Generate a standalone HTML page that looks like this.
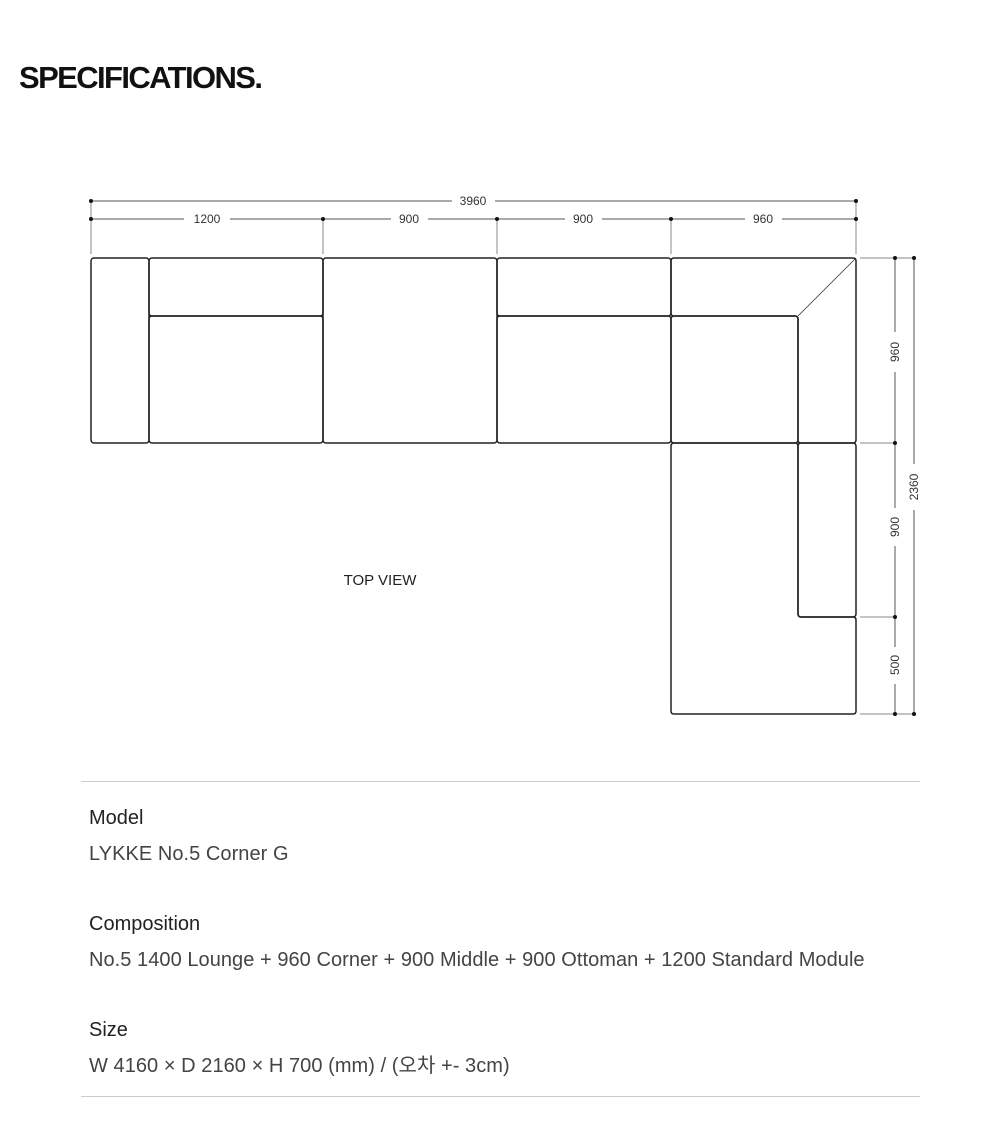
<!DOCTYPE html>
<html><head><meta charset="utf-8"><style>
body{margin:0;background:#fff;width:1000px;height:1148px;position:relative;overflow:hidden;font-family:"Liberation Sans","Noto Sans CJK KR",sans-serif;}
h1{position:absolute;left:19px;top:60px;margin:0;font-size:31px;font-weight:bold;letter-spacing:-1.6px;color:#111;}
.t{position:absolute;left:89px;color:#222;font-size:20px;line-height:24px;letter-spacing:0}
.v{position:absolute;left:89px;color:#444;font-size:20px;line-height:24px;letter-spacing:0.05px}
.hr{position:absolute;left:81px;width:839px;height:1px;background:#ccc}
</style></head><body>
<h1>SPECIFICATIONS.</h1>
<svg width="1000" height="760" style="position:absolute;left:0;top:0" font-family="Liberation Sans, sans-serif" font-size="12" fill="#333">
<g stroke="#555" stroke-width="1">
<line x1="91" y1="201" x2="452" y2="201"/><line x1="495" y1="201" x2="856" y2="201"/>
<line x1="91" y1="219" x2="184" y2="219"/><line x1="230" y1="219" x2="323" y2="219"/>
<line x1="323" y1="219" x2="391" y2="219"/><line x1="428" y1="219" x2="497" y2="219"/>
<line x1="497" y1="219" x2="565" y2="219"/><line x1="602" y1="219" x2="671" y2="219"/>
<line x1="671" y1="219" x2="745" y2="219"/><line x1="782" y1="219" x2="856" y2="219"/>
<g stroke="#888"><line x1="91" y1="201" x2="91" y2="254"/><line x1="323" y1="219" x2="323" y2="254"/><line x1="497" y1="219" x2="497" y2="254"/><line x1="671" y1="219" x2="671" y2="254"/><line x1="856" y1="201" x2="856" y2="254"/>
<line x1="860" y1="258" x2="914" y2="258"/><line x1="860" y1="443" x2="895" y2="443"/><line x1="860" y1="617" x2="895" y2="617"/><line x1="860" y1="714" x2="914" y2="714"/></g>
<line x1="895" y1="258" x2="895" y2="332"/><line x1="895" y1="372" x2="895" y2="443"/>
<line x1="895" y1="443" x2="895" y2="508"/><line x1="895" y1="546" x2="895" y2="617"/>
<line x1="895" y1="617" x2="895" y2="647"/><line x1="895" y1="684" x2="895" y2="714"/>
<line x1="914" y1="258" x2="914" y2="464"/><line x1="914" y1="510" x2="914" y2="714"/>
</g>
<g fill="#111">
<circle cx="91" cy="201" r="2"/><circle cx="856" cy="201" r="2"/>
<circle cx="91" cy="219" r="2"/><circle cx="323" cy="219" r="2"/><circle cx="497" cy="219" r="2"/><circle cx="671" cy="219" r="2"/><circle cx="856" cy="219" r="2"/>
<circle cx="895" cy="258" r="2"/><circle cx="914" cy="258" r="2"/><circle cx="895" cy="443" r="2"/><circle cx="895" cy="617" r="2"/><circle cx="895" cy="714" r="2"/><circle cx="914" cy="714" r="2"/>
</g>
<text x="473" y="205" text-anchor="middle">3960</text>
<text x="207" y="223" text-anchor="middle">1200</text>
<text x="409" y="223" text-anchor="middle">900</text>
<text x="583" y="223" text-anchor="middle">900</text>
<text x="763" y="223" text-anchor="middle">960</text>
<text transform="translate(899,352) rotate(-90)" text-anchor="middle">960</text>
<text transform="translate(899,527) rotate(-90)" text-anchor="middle">900</text>
<text transform="translate(899,665) rotate(-90)" text-anchor="middle">500</text>
<text transform="translate(918,487) rotate(-90)" text-anchor="middle">2360</text>
<text x="380" y="585" text-anchor="middle" font-size="15" fill="#222">TOP VIEW</text>
<g fill="none" stroke="#222" stroke-width="1.5">
<rect x="91" y="258" width="58" height="185" rx="3"/>
<rect x="149" y="258" width="174" height="58" rx="3"/>
<rect x="149" y="316" width="174" height="127" rx="3"/>
<rect x="323" y="258" width="174" height="185" rx="3"/>
<rect x="497" y="258" width="174" height="58" rx="3"/>
<rect x="497" y="316" width="174" height="127" rx="3"/>
<path d="M674 258 H853 Q856 258 856 261 V440 Q856 443 853 443 H801 Q798 443 798 440 V319 Q798 316 795 316 H674 Q671 316 671 313 V261 Q671 258 674 258 Z"/>
<rect x="671" y="316" width="127" height="127" rx="3"/>
<rect x="798" y="443" width="58" height="174" rx="3"/>
<path d="M674 443 H795 Q798 443 798 446 V614 Q798 617 801 617 H853 Q856 617 856 620 V711 Q856 714 853 714 H674 Q671 714 671 711 V446 Q671 443 674 443 Z"/>
</g>
<line x1="798" y1="316" x2="856" y2="258" stroke="#333" stroke-width="0.8"/>
</svg>
<div class="hr" style="top:781px"></div>
<div class="t" style="top:806px">Model</div>
<div class="v" style="top:842px">LYKKE No.5 Corner G</div>
<div class="t" style="top:912px">Composition</div>
<div class="v" style="top:948px">No.5 1400 Lounge + 960 Corner + 900 Middle + 900 Ottoman + 1200 Standard Module</div>
<div class="t" style="top:1018px">Size</div>
<div class="v" style="top:1054px">W 4160 × D 2160 × H 700 (mm) / (오차 +- 3cm)</div>
<div class="hr" style="top:1096px"></div>
</body></html>
